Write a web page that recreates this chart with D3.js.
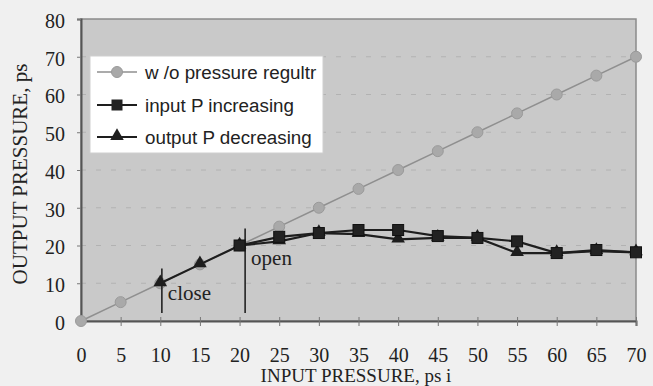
<!DOCTYPE html>
<html>
<head>
<meta charset="utf-8">
<script src="https://cdn.jsdelivr.net/npm/d3@7"></script>
<style>
  html, body { margin: 0; padding: 0; background: #f0f0f0; }
  svg { display: block; }
</style>
</head>
<body>
<svg id="chart" width="653" height="386"></svg>
<script>
// Input pressure (psi) for each reading
const inputPsi = [0, 5, 10, 15, 20, 25, 30, 35, 40, 45, 50, 55, 60, 65, 70];

// Output pressure without the regulator (follows the input)
const noRegulator = [0, 5, 10, 15, 20, 25, 30, 35, 40, 45, 50, 55, 60, 65, 70];

// Output pressure while input pressure is increasing (from 20 psi up)
const increasingX = [20, 25, 30, 35, 40, 45, 50, 55, 60, 65, 70];
const increasingY = [20, 22.3, 23.3, 24.1, 24.1, 22.5, 22, 21.1, 18, 18.8, 18.2];

// Output pressure while pressure is decreasing (down to 10 psi)
const decreasingX = [10, 15, 20, 25, 30, 35, 40, 45, 50, 55, 60, 65, 70];
const decreasingY = [10, 15, 20, 21.1, 23.3, 23, 21.6, 22, 22, 18, 18, 18.5, 18.2];

// Valve events: label, input pressure, vertical extent of the marker
const eventNames = ["close", "open"];
const eventX = [10.2, 20.7];
const eventTop = [13.9, 24.5];
const eventBottom = [2.1, 2.1];

const xTicks = [0, 5, 10, 15, 20, 25, 30, 35, 40, 45, 50, 55, 60, 65, 70];
const yTicks = [0, 10, 20, 30, 40, 50, 60, 70, 80];

const legendNames = ["w /o pressure regultr", "input P increasing", "output P decreasing"];

const svg = d3.select("#chart");
const x = d3.scaleLinear().domain([0, 70]).range([81, 636]);
const y = d3.scaleLinear().domain([0, 80]).range([321, 19]);

const serif = "'Liberation Serif', 'Times New Roman', serif";
const sans = "'Liberation Sans', Arial, sans-serif";

// Plot area
svg.append("rect")
  .attr("x", x(0)).attr("y", y(80))
  .attr("width", x(70) - x(0)).attr("height", y(0) - y(80))
  .attr("fill", "#c9c9c9")
  .attr("stroke", "#8a8a8a").attr("stroke-width", 1.5);

// Dashed horizontal gridlines
svg.append("g").selectAll("line")
  .data(yTicks.filter(d => d > 0 && d < 80))
  .join("line")
  .attr("x1", x(0)).attr("x2", x(70))
  .attr("y1", d => y(d)).attr("y2", d => y(d))
  .attr("stroke", "#b2b2b2").attr("stroke-width", 1)
  .attr("stroke-dasharray", "5,10");

// Axes
const xAxis = d3.axisBottom(x).tickValues(xTicks).tickSize(5).tickPadding(22).tickFormat(d3.format("d"));
const gx = svg.append("g").attr("transform", `translate(0,${y(0)})`).call(xAxis);
gx.select(".domain").attr("stroke", "#555").attr("stroke-width", 2);
gx.selectAll(".tick line").attr("stroke", "#777").attr("y1", -4);
gx.selectAll(".tick text").attr("font-family", serif).attr("font-size", 20).attr("fill", "#222");

const yAxis = d3.axisLeft(y).tickValues(yTicks).tickSize(4).tickPadding(12).tickFormat(d3.format("d"));
const gy = svg.append("g").attr("transform", `translate(${x(0)},0)`).call(yAxis);
gy.select(".domain").attr("stroke", "#555").attr("stroke-width", 2);
gy.selectAll(".tick line").attr("stroke", "#777");
gy.selectAll(".tick text").attr("font-family", serif).attr("font-size", 20).attr("fill", "#222").attr("dy", "0.42em");

// Axis titles
svg.append("text")
  .attr("x", 356).attr("y", 382)
  .attr("text-anchor", "middle")
  .attr("font-family", serif).attr("font-size", 19).attr("fill", "#222")
  .text("INPUT PRESSURE, ps i");

svg.append("text")
  .attr("transform", "translate(27,174) rotate(-90)")
  .attr("text-anchor", "middle")
  .attr("font-family", serif).attr("font-size", 21).attr("fill", "#222")
  .text("OUTPUT PRESSURE, ps");

// Reference series (no regulator)
const line = d3.line().x(d => x(d[0])).y(d => y(d[1]));
const refPts = inputPsi.map((v, i) => [v, noRegulator[i]]);
svg.append("path").datum(refPts)
  .attr("d", line).attr("fill", "none")
  .attr("stroke", "#8f8f8f").attr("stroke-width", 1.5);
svg.append("g").selectAll("circle").data(refPts).join("circle")
  .attr("cx", d => x(d[0])).attr("cy", d => y(d[1])).attr("r", 5.5)
  .attr("fill", "#a9a9a9").attr("stroke", "#9a9a9a");

// Valve event markers
eventNames.forEach((name, i) => {
  svg.append("line")
    .attr("x1", x(eventX[i])).attr("x2", x(eventX[i]))
    .attr("y1", y(eventTop[i])).attr("y2", y(eventBottom[i]))
    .attr("stroke", "#222").attr("stroke-width", 1.6);
  svg.append("text")
    .attr("x", x(eventX[i]) + 6).attr("y", name === "close" ? 300 : 265)
    .attr("font-family", serif).attr("font-size", 21).attr("fill", "#222")
    .text(name);
});

// Decreasing series (triangles)
const decPts = decreasingX.map((v, i) => [v, decreasingY[i]]);
svg.append("path").datum(decPts)
  .attr("d", line).attr("fill", "none")
  .attr("stroke", "#1e1e1e").attr("stroke-width", 2.2);
const tri = d3.symbol().type(d3.symbolTriangle).size(80);
svg.append("g").selectAll("path").data(decPts).join("path")
  .attr("d", tri)
  .attr("transform", d => `translate(${x(d[0])},${y(d[1]) - 1})`)
  .attr("fill", "#1e1e1e");

// Increasing series (squares)
const incPts = increasingX.map((v, i) => [v, increasingY[i]]);
svg.append("path").datum(incPts)
  .attr("d", line).attr("fill", "none")
  .attr("stroke", "#1e1e1e").attr("stroke-width", 2.2);
svg.append("g").selectAll("rect").data(incPts).join("rect")
  .attr("x", d => x(d[0]) - 5.5).attr("y", d => y(d[1]) - 5.5)
  .attr("width", 11).attr("height", 11)
  .attr("fill", "#222").attr("stroke", "#111");

// Legend
const lg = svg.append("g");
lg.append("rect")
  .attr("x", 90).attr("y", 56).attr("width", 233).attr("height", 97)
  .attr("fill", "#ffffff").attr("stroke", "#cfcfcf");
const rowY = [72, 105, 137];
legendNames.forEach((name, i) => {
  const cy = rowY[i];
  lg.append("line")
    .attr("x1", 97).attr("x2", 137).attr("y1", cy).attr("y2", cy)
    .attr("stroke", i === 0 ? "#8f8f8f" : "#1e1e1e")
    .attr("stroke-width", i === 0 ? 1.5 : 2.2);
  if (i === 0) {
    lg.append("circle").attr("cx", 117).attr("cy", cy).attr("r", 5.5)
      .attr("fill", "#a9a9a9").attr("stroke", "#9a9a9a");
  } else if (i === 1) {
    lg.append("rect").attr("x", 111.5).attr("y", cy - 5.5).attr("width", 11).attr("height", 11)
      .attr("fill", "#222");
  } else {
    lg.append("path").attr("d", tri).attr("transform", `translate(117,${cy - 1})`)
      .attr("fill", "#1e1e1e");
  }
  lg.append("text")
    .attr("x", 145).attr("y", cy).attr("dy", "0.35em")
    .attr("font-family", sans).attr("font-size", 18.8).attr("fill", "#222")
    .text(name);
});
</script>
</body>
</html>
